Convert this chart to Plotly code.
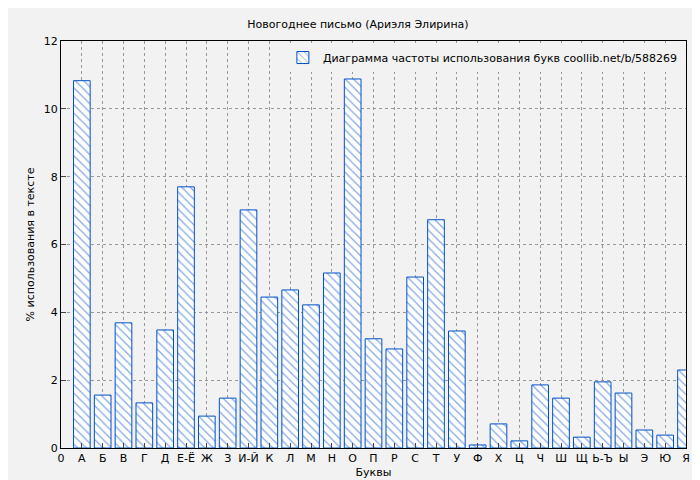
import plotly.graph_objects as go

labels = ["0","А","Б","В","Г","Д","Е-Ё","Ж","З","И-Й","К","Л","М","Н","О","П","Р","С","Т","У","Ф","Х","Ц","Ч","Ш","Щ","Ь-Ъ","Ы","Э","Ю","Я"]
letters = labels[1:]
values = [10.83,1.56,3.69,1.33,3.48,7.70,0.94,1.47,7.02,4.45,4.66,4.22,5.16,10.88,3.22,2.92,5.04,6.73,3.45,0.09,0.71,0.21,1.86,1.47,0.32,1.95,1.62,0.53,0.38,2.30]
positions = list(range(1, len(letters)+1))

fig = go.Figure(go.Bar(
    x=positions, y=values, width=0.8,
    name="Диаграмма частоты использования букв coollib.net/b/588269",
    marker=dict(color="white", line=dict(color="#0050c8", width=1),
                pattern=dict(shape="\\", fgcolor="#0050c8", bgcolor="white", size=6, solidity=0.2)),
    showlegend=True))

fig.update_layout(
    width=700, height=480, paper_bgcolor="#f2f2f2", plot_bgcolor="#f2f2f2",
    margin=dict(l=53, r=22, t=33, b=40, autoexpand=False),
    font=dict(family="DejaVu Sans", size=11, color="black"),
    title=dict(text="Новогоднее письмо (Ариэля Элирина)", x=0.5, xanchor="center", y=0.975, font=dict(size=11)),
    legend=dict(x=0.995, y=0.995, xanchor="right", yanchor="top", bgcolor="#f2f2f2", font=dict(size=11)),
    bargap=0.2,
)
fig.update_xaxes(range=[0, 30], tickvals=list(range(0, 31)), ticktext=labels, automargin=False,
                 showgrid=True, gridcolor="#999", griddash="dot", ticks="inside",
                 showline=True, linecolor="black", mirror=True,
                 title=dict(text="Буквы", standoff=4, font=dict(size=11)))
fig.update_yaxes(range=[0, 12], dtick=2, showgrid=True, gridcolor="#999", griddash="dot", ticks="inside",
                 showline=True, linecolor="black", mirror=True, zeroline=False, automargin=False,
                 title=dict(text="% использования в тексте", standoff=6, font=dict(size=11)))
fig.write_html("out.html")
